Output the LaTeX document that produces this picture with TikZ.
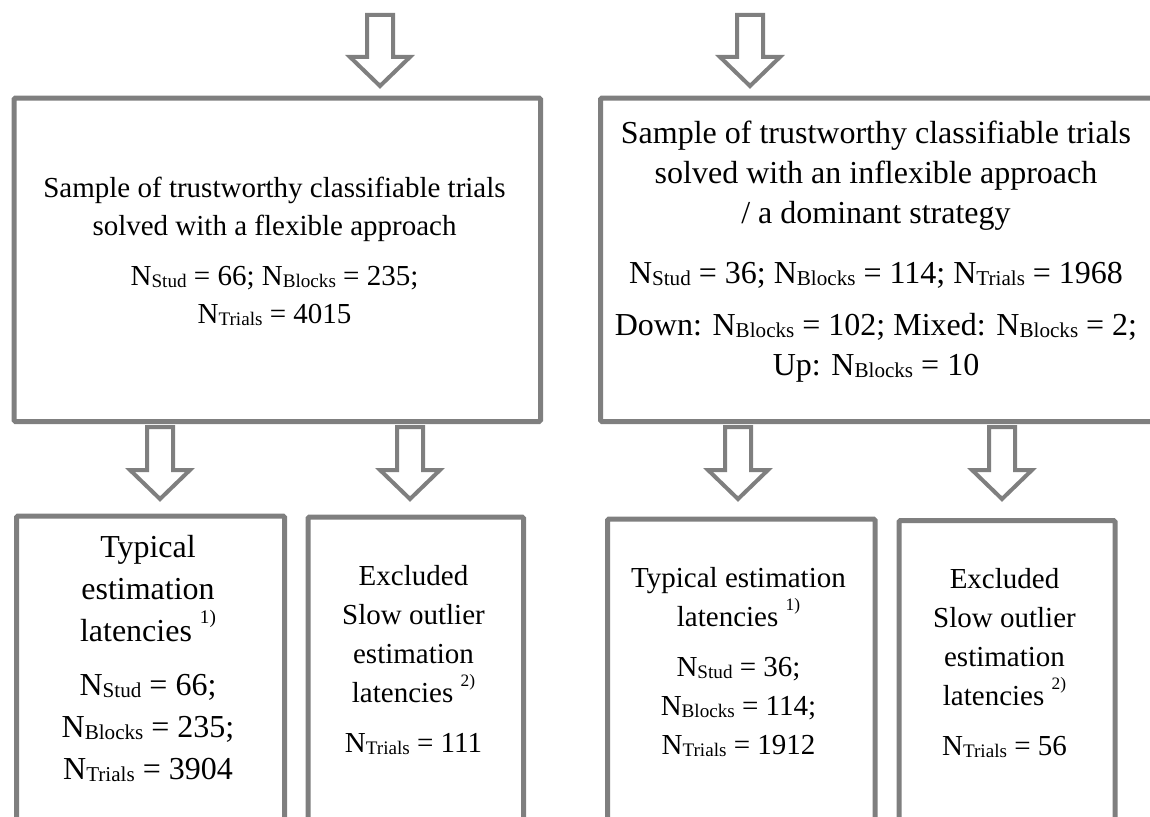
\documentclass[tikz,border=0pt]{standalone}
\usepackage{fontspec}
\setmainfont{Liberation Serif}
\usetikzlibrary{calc}
\definecolor{bordergray}{HTML}{7F7F7F}
\tikzset{
  box/.style={draw=bordergray, line width=5pt, inner sep=0pt, anchor=north west, fill=white, rounded corners=1.5pt},
  txt/.style={align=center, inner sep=0pt, anchor=north, text=black},
  barrow/.style={draw=bordergray, line width=4pt, fill=white, line join=miter},
}
\newcommand\Nsub[1]{N\raisebox{-0.07em}{\scalebox{0.66}{#1}}}
\newcommand\Sup[1]{\raisebox{0.55em}{\scalebox{0.6}{#1}}}
\newcommand\blockarrow[2]{%
  \draw[barrow] let \p1=(#1), \p2=(#2) in
    (\x1-13pt,\y1) -- (\x1-13pt,\y2+29pt) -- (\x1-30pt,\y2+29pt) -- (\x1,\y2)
    -- (\x1+30pt,\y2+29pt) -- (\x1+13pt,\y2+29pt) -- (\x1+13pt,\y1) -- cycle;}
\begin{document}
\begin{tikzpicture}[x=1pt,y=-1pt]
\useasboundingbox (0,0) rectangle (1150,816);
\clip (0,0) rectangle (1150,816);

% boxes
\node[box, minimum width=526.5pt, minimum height=323.5pt] (TL) at (11.5,95.5) {};
\node[box, minimum width=570pt, minimum height=323.5pt] (TR) at (598,95.5) {};
\node[box, minimum width=268pt, minimum height=330pt] (B1) at (14,513.5) {};
\node[box, minimum width=215.5pt, minimum height=330pt] (B2) at (305.5,514.5) {};
\node[box, minimum width=267.5pt, minimum height=330pt] (B3) at (605,516.5) {};
\node[box, minimum width=216pt, minimum height=330pt] (B4) at (896.5,518) {};

% texts
\node[txt, font=\fontsize{29}{38}\selectfont] (tTL) at (274.5,177)
  {Sample of trustworthy classifiable trials\\
   solved with a flexible approach\\[12pt]
   \Nsub{Stud} = 66; \Nsub{Blocks} = 235;\\
   \Nsub{Trials} = 4015};
\node[txt, font=\fontsize{32}{40}\selectfont] (tTR) at (876,121)
  {Sample of trustworthy classifiable trials\\
   solved with an inflexible approach\\
   / a dominant strategy\\[20pt]
   \Nsub{Stud} = 36; \Nsub{Blocks} = 114; \Nsub{Trials} = 1968\\[12pt]
   Down: \Nsub{Blocks} = 102; Mixed: \Nsub{Blocks} = 2;\\
   Up: \Nsub{Blocks} = 10};
\node[txt, font=\fontsize{32}{42}\selectfont] (tB1) at (148,535)
  {Typical\\
   estimation\\
   latencies \Sup{1)}\\[12pt]
   \Nsub{Stud} = 66;\\
   \Nsub{Blocks} = 235;\\
   \Nsub{Trials} = 3904};
\node[txt, font=\fontsize{29}{39}\selectfont] (tB2) at (413.5,565)
  {Excluded\\
   Slow outlier\\
   estimation\\
   latencies \Sup{2)}\\[11pt]
   \Nsub{Trials} = 111};
\node[txt, font=\fontsize{29}{39}\selectfont] (tB3) at (738.5,567)
  {Typical estimation\\
   latencies \Sup{1)}\\[11pt]
   \Nsub{Stud} = 36;\\
   \Nsub{Blocks} = 114;\\
   \Nsub{Trials} = 1912};
\node[txt, font=\fontsize{29}{39}\selectfont] (tB4) at (1004.5,568)
  {Excluded\\
   Slow outlier\\
   estimation\\
   latencies \Sup{2)}\\[11pt]
   \Nsub{Trials} = 56};

% arrow end points
\coordinate (a0s) at (380,15);   \coordinate (a0e) at (380,86);
\coordinate (a5s) at (750,15);   \coordinate (a5e) at (750,86);
\coordinate (a1s) at (160,427);  \coordinate (a1e) at (160,499);
\coordinate (a2s) at (410,427);  \coordinate (a2e) at (410,499);
\coordinate (a3s) at (738,427);  \coordinate (a3e) at (738,499);
\coordinate (a4s) at (1002,427); \coordinate (a4e) at (1002,499);

\blockarrow{a0s}{a0e}
\blockarrow{a5s}{a5e}
\blockarrow{a1s}{a1e}
\blockarrow{a2s}{a2e}
\blockarrow{a3s}{a3e}
\blockarrow{a4s}{a4e}
\end{tikzpicture}
\end{document}
